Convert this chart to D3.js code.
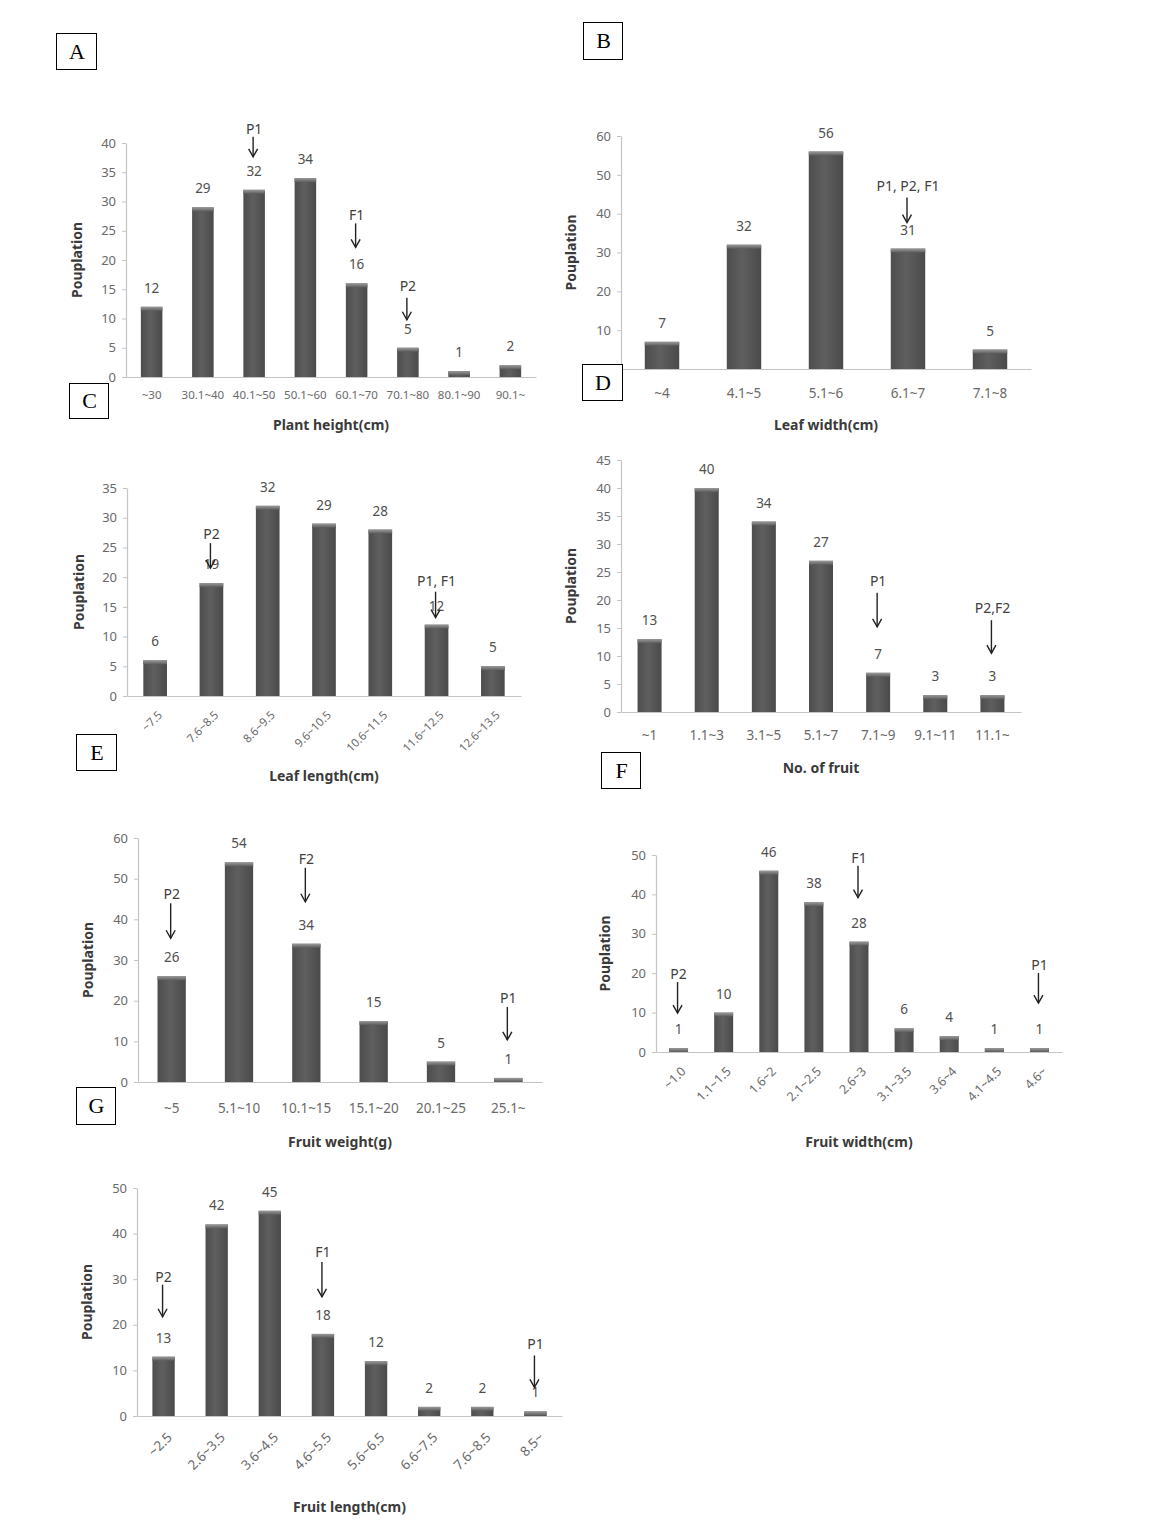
<!DOCTYPE html>
<html><head><meta charset="utf-8">
<script src="https://cdn.jsdelivr.net/npm/d3@7/dist/d3.min.js"></script>
<style>
html,body{margin:0;padding:0;background:#fff;}
svg{display:block;}
</style></head>
<body>
<svg id="chart" width="1161" height="1527"></svg>
<script>
// ---------- DATA ----------
const heightCats = ["~30","30.1~40","40.1~50","50.1~60","60.1~70","70.1~80","80.1~90","90.1~"];
const heightVals = [12,29,32,34,16,5,1,2];
const heightMarks = [[2,"P1"],[4,"F1"],[5,"P2"]];

const leafWidthCats = ["~4","4.1~5","5.1~6","6.1~7","7.1~8"];
const leafWidthVals = [7,32,56,31,5];
const leafWidthMarks = [[3,"P1, P2, F1"]];

const leafLengthCats = ["~7.5","7.6~8.5","8.6~9.5","9.6~10.5","10.6~11.5","11.6~12.5","12.6~13.5"];
const leafLengthVals = [6,19,32,29,28,12,5];
const leafLengthMarks = [[1,"P2"],[5,"P1, F1"]];

const fruitNoCats = ["~1","1.1~3","3.1~5","5.1~7","7.1~9","9.1~11","11.1~"];
const fruitNoVals = [13,40,34,27,7,3,3];
const fruitNoMarks = [[4,"P1"],[6,"P2,F2"]];

const fruitWeightCats = ["~5","5.1~10","10.1~15","15.1~20","20.1~25","25.1~"];
const fruitWeightVals = [26,54,34,15,5,1];
const fruitWeightMarks = [[0,"P2"],[2,"F2"],[5,"P1"]];

const fruitWidthCats = ["~1.0","1.1~1.5","1.6~2","2.1~2.5","2.6~3","3.1~3.5","3.6~4","4.1~4.5","4.6~"];
const fruitWidthVals = [1,10,46,38,28,6,4,1,1];
const fruitWidthMarks = [[0,"P2"],[4,"F1"],[8,"P1"]];

const fruitLengthCats = ["~2.5","2.6~3.5","3.6~4.5","4.6~5.5","5.6~6.5","6.6~7.5","7.6~8.5","8.5~"];
const fruitLengthVals = [13,42,45,18,12,2,2,1];
const fruitLengthMarks = [[0,"P2"],[3,"F1"],[7,"P1"]];

const yMaxes = [40,60,35,45,60,50,50];
const yStepsList = [5,10,5,5,10,10,10];
const xTitles = ["Plant height(cm)","Leaf width(cm)","Leaf length(cm)","No. of fruit","Fruit weight(g)","Fruit width(cm)","Fruit length(cm)"];
const yTitle = "Pouplation";
const panelLetters = ["A","B","C","D","E","F","G"];

// ---------- LAYOUT ----------
const layouts = [
  {x0:126,x1:536,yb:377,yt:143,ytx:77, xfs:11.5,rot:false,xpad:14,titleY:425,
   marks:[[33,20,8],[36,24,8],[28,22,12]]},
  {x0:621,x1:1031,yb:369,yt:136,ytx:571,xfs:13.5,rot:false,xpad:19,titleY:425,
   marks:[[26,25,12]]},
  {x0:127,x1:521,yb:696,yt:488,ytx:79, xfs:11.5,rot:true,rdx:5,rdy:17,titleY:776,
   marks:[[15,25,9],[7,26,11]]},
  {x0:621,x1:1021,yb:712,yt:460,ytx:571,xfs:13.5,rot:false,xpad:18,titleY:768,
   marks:[[46,34,12],[42,33,12]]},
  {x0:138,x1:542,yb:1082,yt:838,ytx:88, xfs:13.5,rot:false,xpad:21,titleY:1142,
   marks:[[38,35,9],[42,34,9],[38,33,9]]},
  {x0:656,x1:1062,yb:1052,yt:855,ytx:605,xfs:12.5,rot:true,rdx:5,rdy:17,titleY:1142,
   marks:[[35,31,8],[44,32,8],[45,30,8]]},
  {x0:137,x1:562,yb:1416,yt:1188,ytx:87, xfs:13.5,rot:true,rdx:6,rdy:19,titleY:1507,
   marks:[[40,32,8],[37,35,10],[24,32,11]]}
];
const letterBoxes = [[56,33,40,36],[583,22,39,37],[69,383,39,35],[582,364,40,36],[76,734,40,36],[601,752,39,36],[76,1087,39,37]];

const panelData = [
  [heightCats,heightVals,heightMarks],
  [leafWidthCats,leafWidthVals,leafWidthMarks],
  [leafLengthCats,leafLengthVals,leafLengthMarks],
  [fruitNoCats,fruitNoVals,fruitNoMarks],
  [fruitWeightCats,fruitWeightVals,fruitWeightMarks],
  [fruitWidthCats,fruitWidthVals,fruitWidthMarks],
  [fruitLengthCats,fruitLengthVals,fruitLengthMarks]
];

const FONT = "'Noto Sans', 'Open Sans', sans-serif";
const svg = d3.select("#chart");
const defs = svg.append("defs");
const grad = defs.append("linearGradient").attr("id","barGrad").attr("x1","0").attr("x2","1").attr("y1","0").attr("y2","0");
grad.append("stop").attr("offset","0%").attr("stop-color","#4d4d4d");
grad.append("stop").attr("offset","45%").attr("stop-color","#5f5f5f");
grad.append("stop").attr("offset","100%").attr("stop-color","#4a4a4a");
const capGrad = defs.append("linearGradient").attr("id","capGrad").attr("x1","0").attr("x2","0").attr("y1","0").attr("y2","1");
capGrad.append("stop").attr("offset","0%").attr("stop-color","#9a9a9a");
capGrad.append("stop").attr("offset","100%").attr("stop-color","#5c5c5c");

function drawPanel(i){
  const [cats, vals, marks] = panelData[i];
  const L = layouts[i];
  const g = svg.append("g");
  const x = d3.scaleBand().domain(cats).range([L.x0,L.x1]).paddingInner(0.58).paddingOuter(0.29);
  const y = d3.scaleLinear().domain([0,yMaxes[i]]).range([L.yb,L.yt]);
  const bw = x.bandwidth();

  // y axis
  const ya = g.append("g").attr("transform",`translate(${L.x0},0)`)
    .call(d3.axisLeft(y).tickValues(d3.range(0,yMaxes[i]+0.001,yStepsList[i])).tickSize(4).tickSizeOuter(0).tickPadding(6));
  ya.select(".domain").attr("stroke","#c4c4c4").attr("stroke-width",1.2);
  ya.selectAll(".tick line").attr("stroke","#c4c4c4");
  ya.selectAll(".tick text").attr("fill","#6a6a6a").style("font-family",FONT).style("font-size","13px");

  // x axis
  const xa = g.append("g").attr("transform",`translate(0,${L.yb})`)
    .call(d3.axisBottom(x).tickSize(0).tickSizeOuter(0).tickPadding(L.xpad||10));
  xa.select(".domain").attr("stroke","#c4c4c4").attr("stroke-width",1.2);
  xa.selectAll(".tick text").attr("fill","#6a6a6a").style("font-family",FONT).style("font-size",L.xfs+"px");
  if(L.rot){
    xa.selectAll(".tick text").attr("y",0).attr("dy","0.35em").attr("text-anchor","end")
      .attr("transform",`translate(${L.rdx},${L.rdy}) rotate(-45)`);
  }

  // bars
  const bars = g.append("g").selectAll("g").data(cats).join("g");
  bars.append("rect").attr("x",d=>x(d)).attr("width",bw)
    .attr("y",(d,j)=>y(vals[j])).attr("height",(d,j)=>L.yb - y(vals[j]))
    .attr("fill","url(#barGrad)");
  bars.append("rect").attr("x",d=>x(d)).attr("width",bw)
    .attr("y",(d,j)=>y(vals[j])).attr("height",(d,j)=>Math.min(4, L.yb - y(vals[j])))
    .attr("fill","url(#capGrad)");

  // value labels
  g.append("g").selectAll("text").data(cats).join("text")
    .attr("x",d=>x(d)+bw/2).attr("y",(d,j)=>y(vals[j]) - 14)
    .attr("text-anchor","middle").attr("fill","#505050")
    .style("font-family",FONT).style("font-size","13.5px")
    .text((d,j)=>vals[j]);

  // annotation arrows
  marks.forEach((m,k)=>{
    const [idx,label] = m;
    const [tipAbove,len,txtGap] = L.marks[k];
    const cx = x(cats[idx]) + bw/2 - 1;
    const tipY = y(vals[idx]) - tipAbove;
    const topY = tipY - len;
    g.append("line").attr("x1",cx).attr("x2",cx).attr("y1",topY).attr("y2",tipY)
      .attr("stroke","#222").attr("stroke-width",1.4);
    g.append("path").attr("d",`M${cx-4.5},${tipY-8}L${cx},${tipY}L${cx+4.5},${tipY-8}`)
      .attr("fill","none").attr("stroke","#222").attr("stroke-width",1.4);
    g.append("text").attr("x",cx+1).attr("y",topY - txtGap).attr("dy","0.35em")
      .attr("text-anchor","middle").attr("fill","#404040")
      .style("font-family",FONT).style("font-size","14px").text(label);
  });

  // titles
  g.append("text").attr("x",(L.x0+L.x1)/2).attr("y",L.titleY).attr("dy","0.35em")
    .attr("text-anchor","middle").attr("fill","#3a3a3a").style("font-weight","bold")
    .style("font-family",FONT).style("font-size","14px").text(xTitles[i]);
  g.append("text").attr("transform",`translate(${L.ytx},${(L.yb+L.yt)/2}) rotate(-90)`)
    .attr("dy","0.35em").attr("text-anchor","middle").attr("fill","#3a3a3a").style("font-weight","bold")
    .style("font-family",FONT).style("font-size","14px").text(yTitle);
}

for(let i=0;i<7;i++) drawPanel(i);

// panel letter boxes
const lb = svg.append("g").selectAll("g").data(panelLetters).join("g");
lb.append("rect").attr("x",(d,i)=>letterBoxes[i][0]+0.5).attr("y",(d,i)=>letterBoxes[i][1]+0.5)
  .attr("width",(d,i)=>letterBoxes[i][2]).attr("height",(d,i)=>letterBoxes[i][3])
  .attr("fill","#fff").attr("stroke","#000").attr("stroke-width",1);
lb.append("text").attr("x",(d,i)=>letterBoxes[i][0]+letterBoxes[i][2]/2+1)
  .attr("y",(d,i)=>letterBoxes[i][1]+letterBoxes[i][3]/2).attr("dy","0.36em")
  .attr("text-anchor","middle").attr("fill","#000")
  .style("font-family","'Liberation Serif', 'DejaVu Serif', serif").style("font-size","22px")
  .text(d=>d);
</script>
</body></html>
